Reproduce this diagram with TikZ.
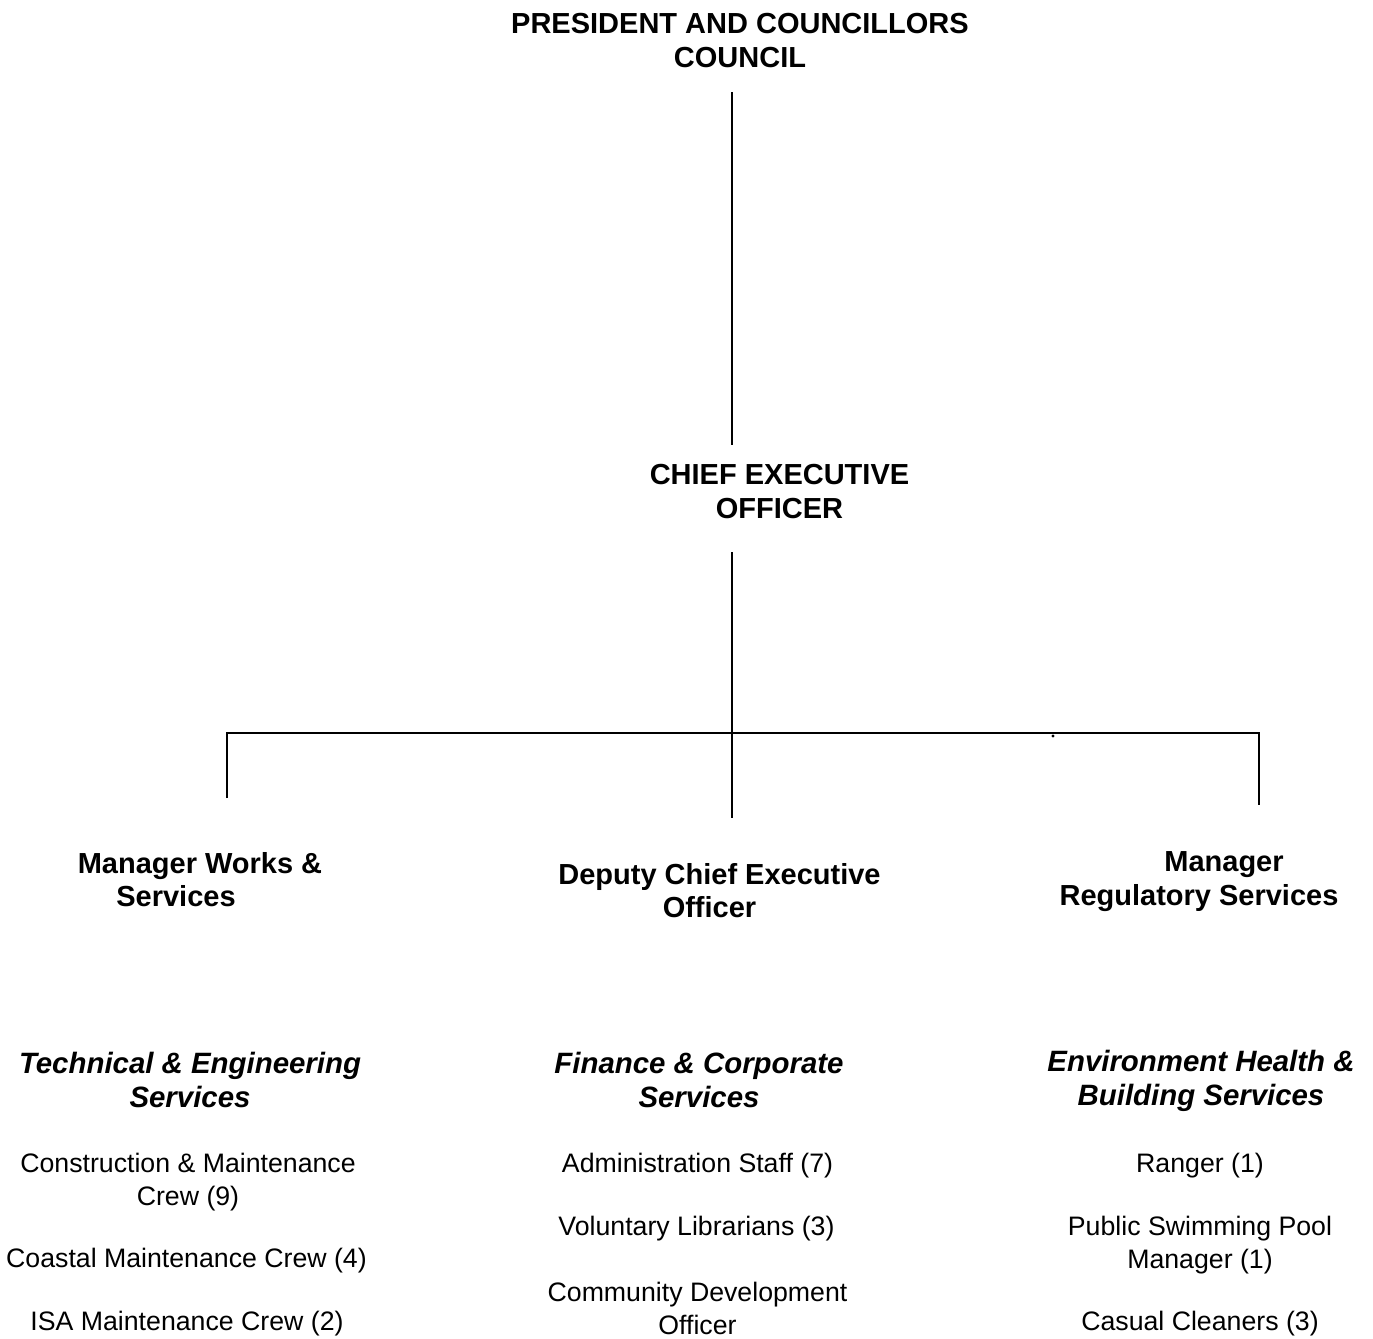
\documentclass[tikz,border=0pt]{standalone}
\usepackage{fontspec}
\setmainfont{Liberation Sans}
\usepackage{tikz}

\begin{document}
\begin{tikzpicture}[x=0.5pt, y=-0.5pt,
  txt/.style={inner sep=0pt, align=center, font=\fontsize{13.35pt}{16.2pt}\selectfont},
  head/.style={txt, font=\fontsize{14.5pt}{16.6pt}\selectfont\bfseries},
  sect/.style={txt, font=\fontsize{14.7pt}{16.8pt}\selectfont\bfseries\itshape},
  link/.style={line width=0.8pt}]
\useasboundingbox (0,0) rectangle (1373,1339);
\node[head] (p1) at (740,40.5) {PRESIDENT AND COUNCILLORS\\COUNCIL};
\node[head] (c1) at (779.5,491.5) {CHIEF EXECUTIVE\\OFFICER};
\node[head] (m1) at (200,880) {Manager Works \&\\Services\hspace*{24pt}};
\node[head] (m2) at (719.5,890.5) {Deputy Chief Executive\\Officer\hspace*{10pt}};
\node[head] (m3) at (1199,881.5) {\hspace*{25pt}Manager\\Regulatory Services};
\node[sect] (s1) at (190,1080) {Technical \& Engineering\\Services};
\node[sect] (s2) at (699,1080) {Finance \& Corporate\\Services};
\node[sect] (s3) at (1201,1081) {Environment Health \&\\Building Services};
\node[txt] (a1) at (188,1182) {Construction \& Maintenance\\Crew (9)};
\node[txt] (a2) at (186.5,1261) {Coastal Maintenance Crew (4)};
\node[txt] (a3) at (187,1324) {ISA Maintenance Crew (2)};
\node[txt] (b1) at (697.5,1166) {Administration Staff (7)};
\node[txt] (b2) at (696.5,1229) {Voluntary Librarians (3)};
\node[txt] (b3) at (697.5,1308.5) {Community Development\\Officer};
\node[txt] (d1) at (1200,1166) {Ranger (1)};
\node[txt] (d2) at (1200,1245) {Public Swimming Pool\\Manager (1)};
\node[txt] (d3) at (1200,1324) {Casual Cleaners (3)};
% line ends
\coordinate (u1) at (732,92);
\coordinate (u2) at (732,445);
\coordinate (v1) at (732,552);
\coordinate (v2) at (732,818);
\coordinate (h1) at (227,733);
\coordinate (h2) at (1259,733);
\coordinate (l1) at (227,798);
\coordinate (l3) at (1259,805);
\coordinate (dot) at (1053,736);
\draw[link] (u1) -- (u2);
\draw[link] (v1) -- (v2);
\draw[link] (l1) -- (h1) -- (h2) -- (l3);
\fill (dot) circle (1.6);
\end{tikzpicture}
\end{document}
